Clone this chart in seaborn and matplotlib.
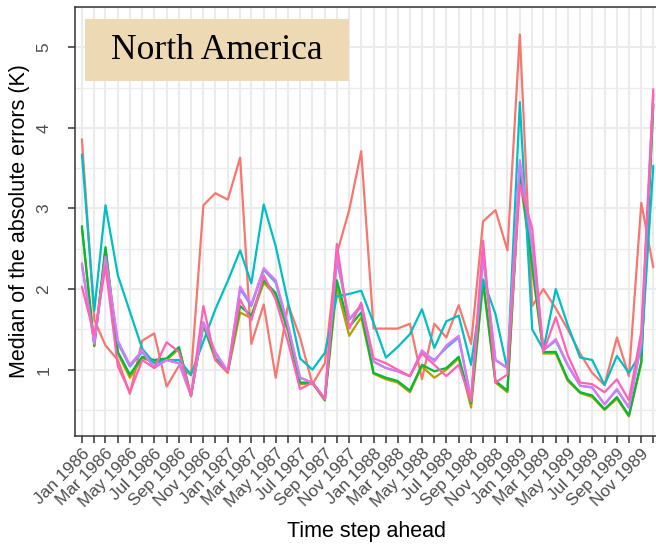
import numpy as np
import pandas as pd
import matplotlib
matplotlib.use("Agg")
import matplotlib.pyplot as plt
import matplotlib.dates as mdates
from matplotlib.patches import Rectangle
import seaborn as sns

# ---------------- data ----------------
start_month = "1986-01-01"
n_months = 48
series_names = ["s1", "s2", "s3", "s4", "s5", "s6", "s7"]
series_colors = ["#F8766D", "#B79F00", "#00BA38", "#00BFC4", "#619CFF", "#D97AF2", "#FF62B4"]

salmon = [3.86, 1.62, 1.30, 1.12, 0.70, 1.36, 1.45, 0.79, 1.05, 0.93, 3.04, 3.19,
          3.11, 3.63, 1.32, 1.81, 0.90, 1.81, 1.40, 0.82, 1.08, 2.44, 2.98, 3.71,
          1.51, 1.51, 1.51, 1.57, 0.88, 1.57, 1.40, 1.80, 1.32, 2.84, 2.98, 2.48,
          5.16, 1.79, 2.00, 1.76, 1.50, 1.20, 0.96, 0.81, 1.40, 0.92, 3.07, 2.27]
olive = [2.76, 1.29, 2.50, 1.20, 0.90, 1.14, 1.10, 1.12, 1.26, 0.67, 1.55, 1.12,
         0.96, 1.71, 1.64, 2.08, 1.92, 1.47, 0.82, 0.83, 0.62, 2.02, 1.42, 1.65,
         0.95, 0.88, 0.84, 0.72, 1.04, 0.90, 1.00, 1.14, 0.53, 2.08, 0.84, 0.72,
         3.40, 2.25, 1.20, 1.20, 0.86, 0.71, 0.66, 0.50, 0.64, 0.42, 1.08, 4.28]
green = [2.78, 1.30, 2.52, 1.22, 0.94, 1.16, 1.12, 1.14, 1.28, 0.68, 1.57, 1.14,
         0.98, 1.79, 1.67, 2.11, 1.95, 1.50, 0.84, 0.84, 0.62, 2.11, 1.53, 1.71,
         0.96, 0.90, 0.86, 0.74, 1.06, 0.98, 1.02, 1.16, 0.59, 2.11, 0.86, 0.74,
         3.45, 2.30, 1.22, 1.22, 0.88, 0.72, 0.68, 0.51, 0.66, 0.43, 1.10, 4.30]
teal = [3.67, 1.73, 3.04, 2.17, 1.72, 1.26, 1.08, 1.12, 1.12, 0.94, 1.35, 1.75,
        2.10, 2.48, 2.07, 3.05, 2.53, 1.83, 1.14, 1.00, 1.21, 1.91, 1.94, 1.98,
        1.58, 1.15, 1.28, 1.44, 1.75, 1.27, 1.60, 1.67, 1.06, 2.12, 1.69, 1.00,
        4.32, 1.50, 1.25, 2.00, 1.55, 1.15, 1.12, 0.81, 1.17, 0.96, 1.22, 3.53]
blue = [2.30, 1.33, 2.38, 1.33, 1.04, 1.22, 1.03, 1.12, 1.08, 0.68, 1.58, 1.20,
        0.98, 2.00, 1.79, 2.24, 2.08, 1.53, 0.90, 0.84, 0.64, 2.36, 1.62, 1.78,
        1.10, 1.02, 0.98, 0.92, 1.22, 1.12, 1.27, 1.40, 0.63, 2.40, 1.12, 1.02,
        3.55, 2.50, 1.24, 1.36, 1.05, 0.80, 0.78, 0.57, 0.75, 0.53, 1.32, 4.40]
violet = [2.32, 1.32, 2.40, 1.36, 1.06, 1.24, 1.02, 1.12, 1.08, 0.68, 1.59, 1.22,
          0.98, 2.03, 1.81, 2.26, 2.11, 1.55, 0.90, 0.84, 0.64, 2.40, 1.63, 1.80,
          1.10, 1.02, 0.98, 0.92, 1.24, 1.10, 1.30, 1.42, 0.63, 2.44, 1.12, 1.02,
          3.60, 2.55, 1.24, 1.38, 1.06, 0.80, 0.78, 0.57, 0.76, 0.53, 1.34, 4.42]
pink = [2.03, 1.43, 2.28, 1.04, 0.72, 1.12, 1.02, 1.34, 1.22, 0.68, 1.79, 1.12,
        0.97, 1.87, 1.61, 2.17, 1.87, 1.34, 0.76, 0.84, 0.63, 2.56, 1.51, 1.83,
        1.14, 1.08, 1.00, 0.92, 1.20, 1.06, 0.92, 1.06, 0.61, 2.60, 0.84, 0.94,
        3.30, 2.75, 1.22, 1.65, 1.18, 0.84, 0.82, 0.72, 0.88, 0.62, 1.47, 4.48]

title_text = "North America"
x_label = "Time step ahead"
y_label = "Median of the absolute errors (K)"
y_ticks = [1, 2, 3, 4, 5]

# ---------------- build table ----------------
months = pd.date_range(start_month, periods=n_months, freq="MS")
all_values = [salmon, olive, green, teal, blue, violet, pink]
df = pd.concat(
    [pd.DataFrame({"date": months, "value": v, "series": name})
     for name, v in zip(series_names, all_values)],
    ignore_index=True,
)
palette = dict(zip(series_names, series_colors))

# ---------------- figure ----------------
sns.set_theme(style="white")
plt.rcParams["font.family"] = ["Liberation Sans", "DejaVu Sans"]

W, H = 656, 548
fig = plt.figure(figsize=(W / 100, H / 100), dpi=100)
ax = fig.add_axes([75 / W, 1 - 436 / H, (W - 75) / W, (436 - 7) / H])

sns.lineplot(data=df, x="date", y="value", hue="series", hue_order=series_names,
             palette=palette, linewidth=1.6, ax=ax, legend=False,
             estimator=None, sort=False)

ax.set_xlim(months[0] - pd.Timedelta(days=17.3), months[-1] + pd.Timedelta(days=6.8))
ax.set_ylim(0.177, 5.39)

ax.xaxis.set_major_locator(mdates.MonthLocator(bymonth=[1, 3, 5, 7, 9, 11]))
ax.xaxis.set_major_formatter(mdates.DateFormatter("%b %Y"))
ax.xaxis.set_minor_locator(mdates.MonthLocator())
ax.set_yticks(y_ticks)
ax.set_yticks(np.arange(0.5, 5.6, 1.0), minor=True)

ax.set_axisbelow(True)
ax.xaxis.grid(True, which="both", color="#EBEBEB", linewidth=1.5)
ax.yaxis.grid(True, which="major", color="#EBEBEB", linewidth=1.5)
ax.yaxis.grid(True, which="minor", color="#EBEBEB", linewidth=1.0)

ax.tick_params(axis="x", which="both", bottom=True, length=5, width=1.1,
               color="#333333", labelsize=12.4, labelcolor="#4D4D4D", pad=2)
ax.tick_params(axis="y", which="major", left=True, length=5, width=1.1,
               color="#333333", labelsize=12.4, labelcolor="#4D4D4D", pad=12)
ax.tick_params(axis="y", which="minor", left=False, length=0)
for lbl in ax.get_xticklabels():
    lbl.set_rotation(45)
    lbl.set_ha("right")
    lbl.set_va("top")
    lbl.set_rotation_mode("anchor")
for lbl in ax.get_yticklabels():
    lbl.set_rotation(90)
    lbl.set_va("center")

for side in ["left", "top", "bottom"]:
    ax.spines[side].set_color("#333333")
    ax.spines[side].set_linewidth(1.1)
ax.spines["right"].set_visible(False)

ax.set_xlabel("")
ax.set_ylabel("")
fig.text(366 / W, 1 - 531 / H, x_label, ha="center", va="center", fontsize=15.5, color="black")
fig.text(20 / W, 1 - 221 / H, y_label, ha="center", va="center", rotation=90,
         fontsize=15.5, color="black")

# title box
box = Rectangle((85 / W, 1 - 81 / H), 264 / W, 62 / H, transform=fig.transFigure,
                facecolor="#EED9B5", edgecolor="none", zorder=5)
fig.add_artist(box)
fig.text(217 / W, 1 - 50 / H, title_text, ha="center", va="center",
         fontsize=25.5, family=["Liberation Serif", "DejaVu Serif"], color="black", zorder=6)

fig.savefig("out.png", dpi=100)
